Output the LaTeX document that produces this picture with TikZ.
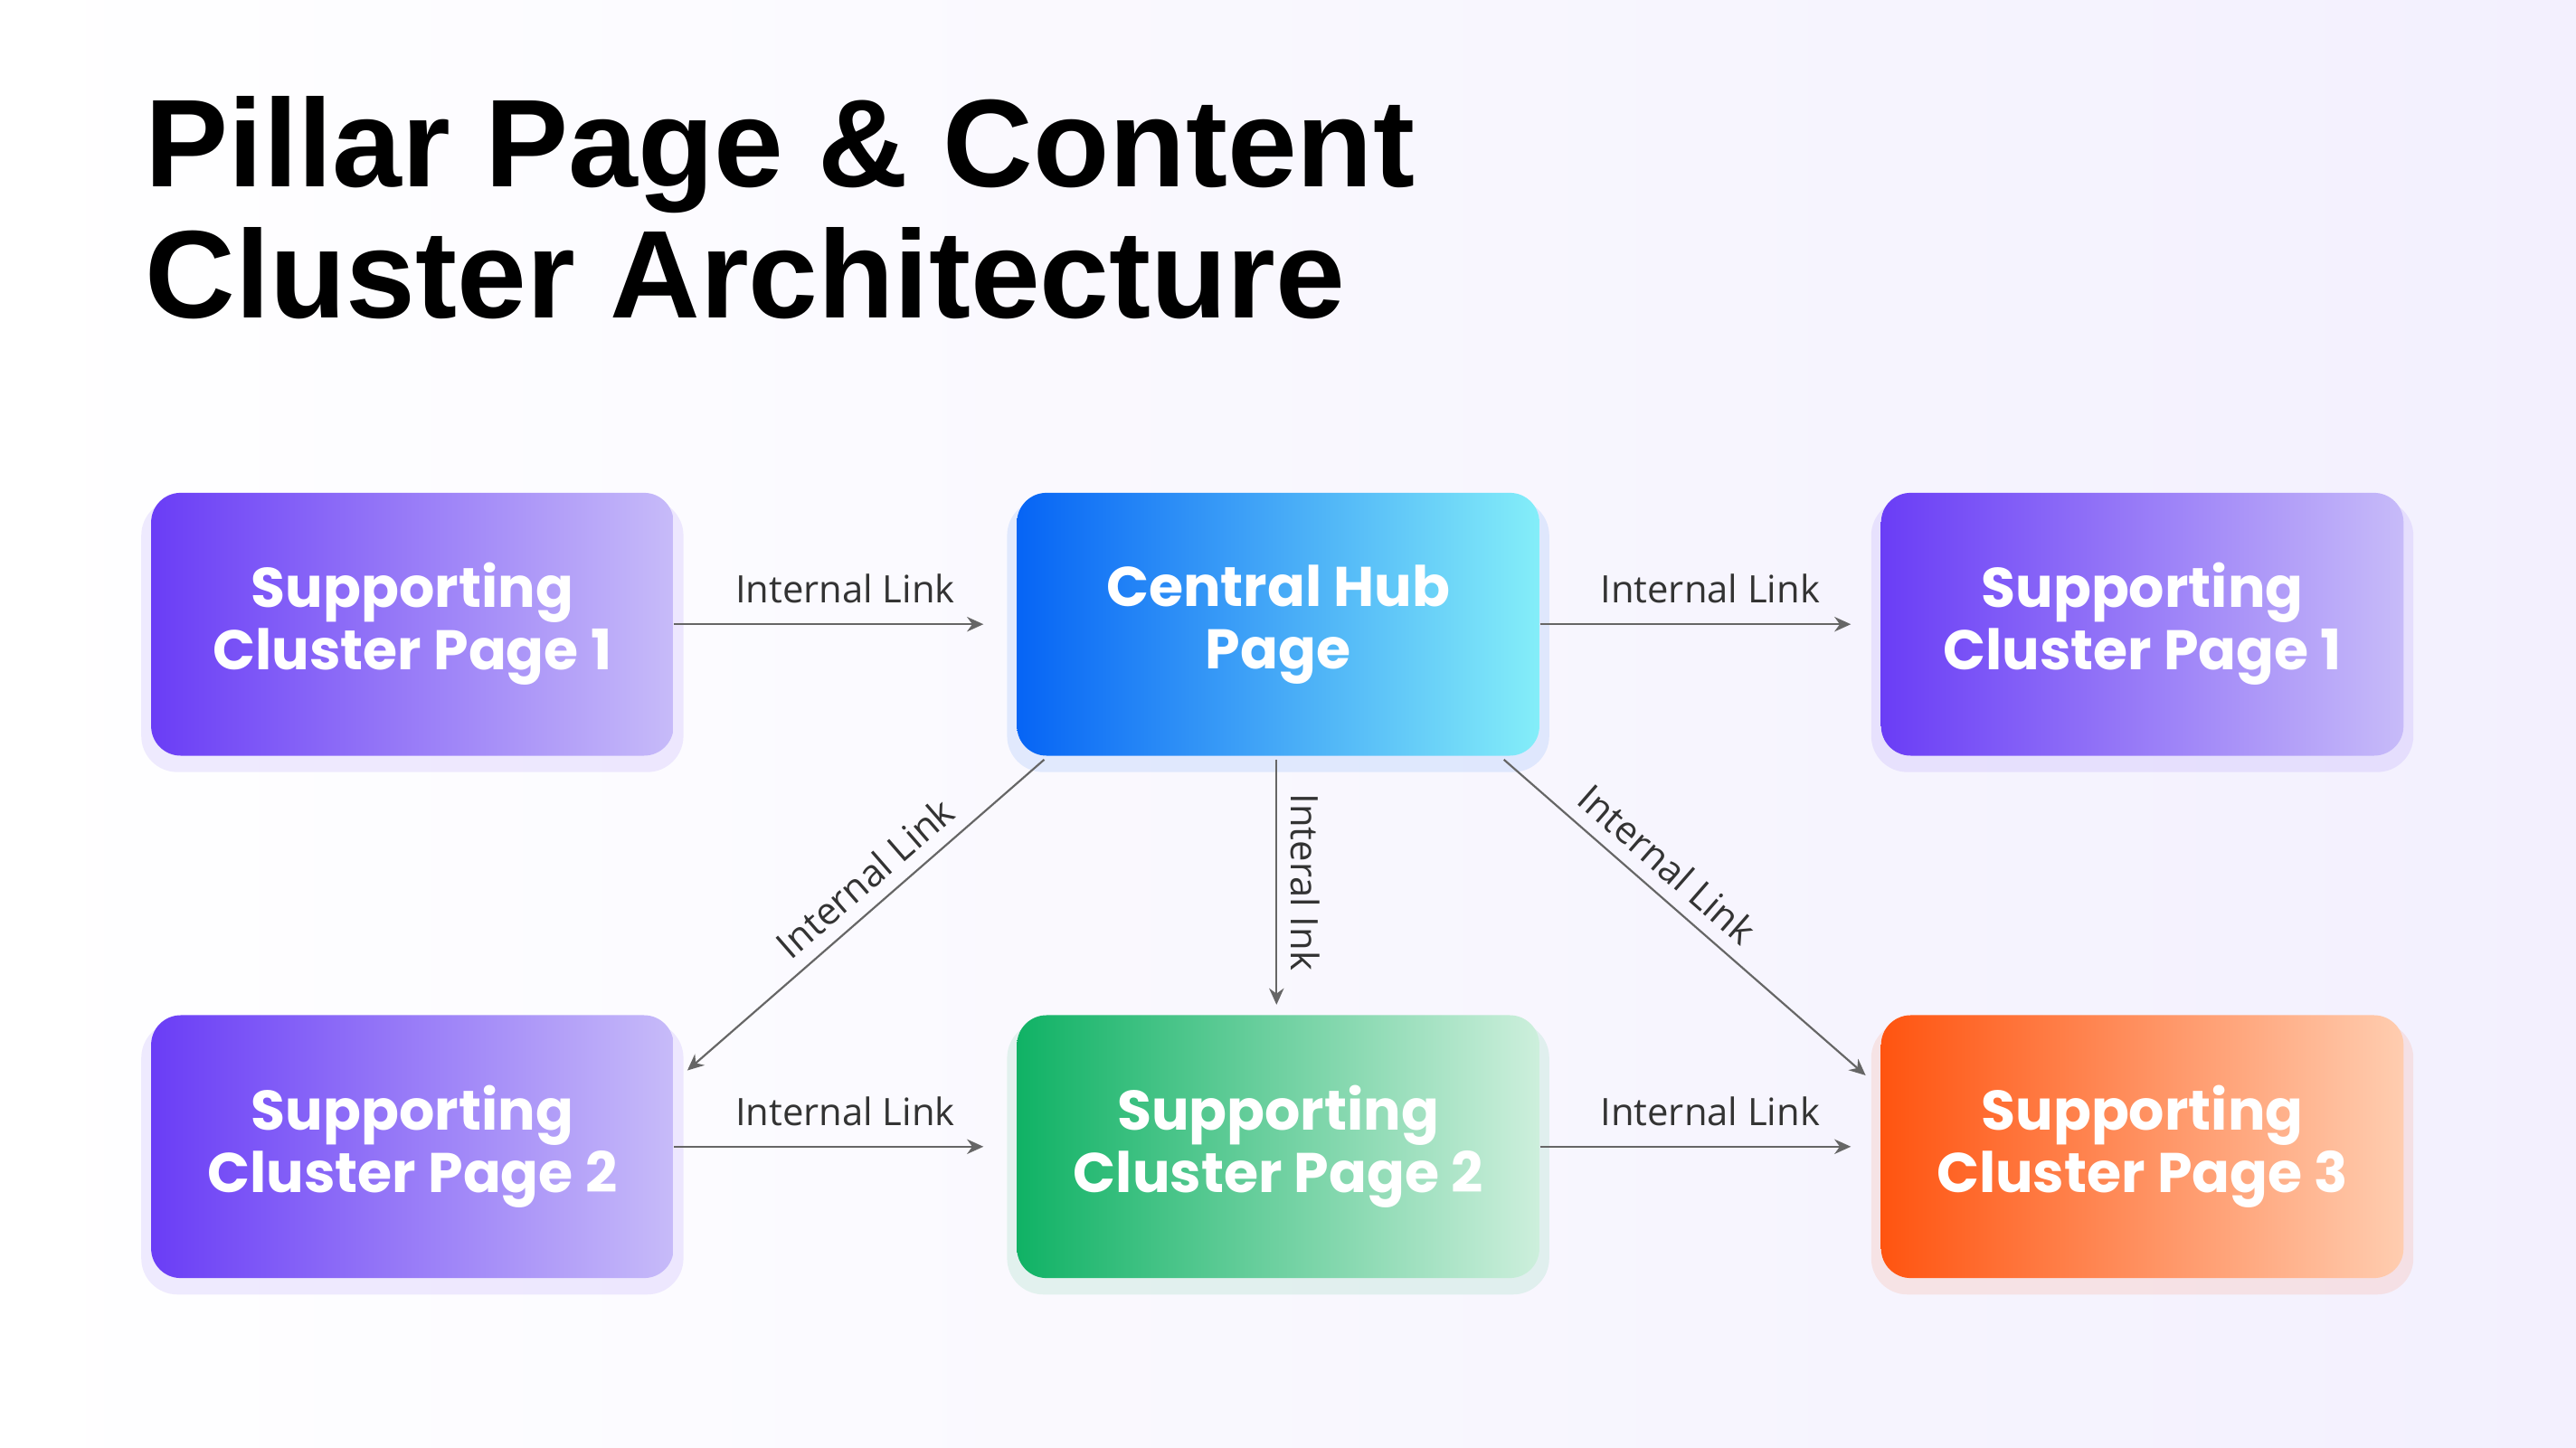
\documentclass[tikz,border=0pt]{standalone}
\usepackage{fontspec}
\setmainfont{Poppins}
\newfontfamily\titlefont{Liberation Sans}
\newfontfamily\labfont{Open Sans}
\usetikzlibrary{calc,arrows.meta}
\definecolor{pA}{HTML}{6A3DF6}\definecolor{pB}{HTML}{C7BBF9}
\definecolor{bA}{HTML}{0664F5}\definecolor{bB}{HTML}{84EEF9}
\definecolor{gA}{HTML}{10B265}\definecolor{gB}{HTML}{CDEFDC}
\definecolor{oA}{HTML}{FF5410}\definecolor{oB}{HTML}{FFCDB0}
\definecolor{arr}{HTML}{666666}
\tikzset{
 card/.style={rounded corners=9pt, minimum width=159pt, minimum height=80pt, inner sep=0, align=center,
   text=white, font=\fontsize{17}{19}\selectfont\bfseries},
 grad/.style 2 args={card, left color=#1, right color=#2},
 link/.style={draw=arr, line width=0.6pt, -{Stealth[length=5pt,width=4.5pt]}},
 lab/.style={font=\labfont\fontsize{11.5}{13}\selectfont, text=black!80, inner sep=1pt},
}
\newcommand{\glow}[2]{\fill[#2, opacity=0.10, rounded corners=11pt] ($(#1)+(-165,-76)$) rectangle ($(#1)+(165,90)$);}
\begin{document}
\begin{tikzpicture}[x=0.5pt,y=-0.5pt]
\shade[left color=white, right color=pB!22] (0,0) rectangle (1568,881);
\useasboundingbox (0,0) rectangle (1568,881);
\node[anchor=north west, align=left, font=\titlefont\fontsize{38}{40}\selectfont\bfseries, inner sep=0] (title) at (88,58) {Pillar Page \& Content\\Cluster Architecture};
\coordinate (p1) at (251,380); \coordinate (p2) at (778,380); \coordinate (p3) at (1304,380);
\coordinate (p4) at (251,698); \coordinate (p5) at (778,698); \coordinate (p6) at (1304,698);
\glow{p1}{pA}\glow{p2}{bA}\glow{p3}{pA}\glow{p4}{pA}\glow{p5}{gA}\glow{p6}{oA}
\node[grad={pA}{pB}] (s1) at (p1) {Supporting\\Cluster Page 1};
\node[grad={bA}{bB}] (hub) at (p2) {Central Hub\\Page};
\node[grad={pA}{pB}] (s1b) at (p3) {Supporting\\Cluster Page 1};
\node[grad={pA}{pB}] (s2) at (p4) {Supporting\\Cluster Page 2};
\node[grad={gA}{gB}] (g2) at (p5) {Supporting\\Cluster Page 2};
\node[grad={oA}{oB}] (o3) at (p6) {Supporting\\Cluster Page 3};
\draw[link, shorten >=10pt] (s1.east) -- node[lab, above=5pt] {Internal Link} (hub.west);
\draw[link, shorten >=9pt] (hub.east) -- node[lab, above=5pt] {Internal Link} (s1b.west);
\draw[link, shorten >=10pt] (s2.east) -- node[lab, above=5pt] {Internal Link} (g2.west);
\draw[link, shorten >=9pt] (g2.east) -- node[lab, above=5pt] {Internal Link} (o3.west);
\draw[link] ($(hub.south)+(-1,2)$) -- node[lab, sloped, above=3pt, pos=0.5] {Interal Ink} ($(g2.north)+(-1,-6)$);
\draw[link] ($(hub.south west)+(17,2)$) -- node[lab, sloped, above=3pt, pos=0.45] {Internal Link} ($(s2.north east)+(8,34)$);
\draw[link] ($(hub.south east)+(-22,2)$) -- node[lab, sloped, above=3pt, pos=0.4] {Internal Link} ($(o3.north west)+(-9,37)$);
\end{tikzpicture}
\end{document}
